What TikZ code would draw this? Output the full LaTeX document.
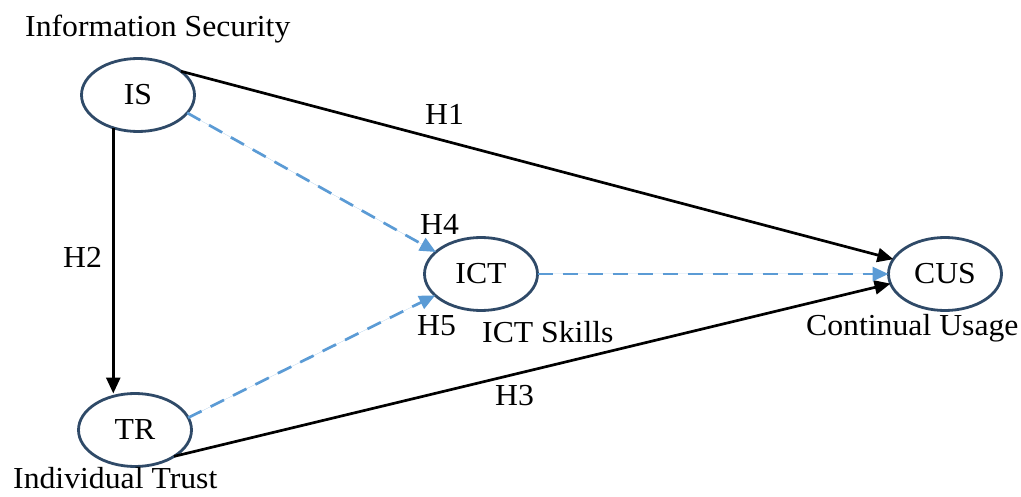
\documentclass[tikz,border=0pt]{standalone}
\usepackage{fontspec}
\setmainfont{Liberation Serif}[FakeStretch=1.04]
\usetikzlibrary{arrows.meta,shapes.geometric}
\definecolor{ellcol}{HTML}{2F4A68}
\definecolor{dashblue}{HTML}{5B9BD5}
\begin{document}
\begin{tikzpicture}[x=1pt,y=-1pt,
  construct/.style={ellipse,draw=ellcol,line width=2.8pt,minimum width=113pt,minimum height=73pt,inner sep=0pt,outer sep=0pt,font=\fontsize{30.5}{36}\selectfont},
  lbl/.style={anchor=base west,inner sep=0pt,font=\fontsize{30.5}{36}\selectfont},
  tip/.style={-{Triangle[length=16pt,width=14pt]}},
  solidpath/.style={tip,draw=black,line width=2.7pt},
  dashpath/.style={tip,draw=dashblue,fill=dashblue,line width=2.7pt,dash pattern=on 15pt off 10pt}]
\useasboundingbox (0,0) rectangle (1021,497);
\node[construct] (IS) at (138,95) {IS};
\node[construct] (TR) at (135,430) {TR};
\node[construct] (ICT) at (481,274) {ICT};
\node[construct] (CUS) at (945,274) {CUS};
\node[lbl] (lIS) at (25,37) {Information Security};
\node[lbl] (lTR) at (13,488) {Individual Trust};
\node[lbl] (lICT) at (482,343) {ICT Skills};
\node[lbl] (lCUS) at (806,335) {Continual Usage};
\node[lbl] (h1) at (425,125) {H1};
\node[lbl] (h2) at (63,268) {H2};
\node[lbl] (h3) at (495,405) {H3};
\node[lbl] (h4) at (420,235) {H4};
\node[lbl] (h5) at (417,335) {H5};
\draw[solidpath] (IS.29) -- (CUS.164);
\draw[solidpath] (IS.233) -- (IS.233 |- TR.north);
\draw[solidpath] (TR.-34) -- (CUS.190);
\draw[dashpath] (IS.-20) -- (ICT.154);
\draw[dashpath] (TR.13) -- (ICT.205);
\draw[dashpath] (ICT.east) -- (CUS.west);
\end{tikzpicture}
\end{document}
